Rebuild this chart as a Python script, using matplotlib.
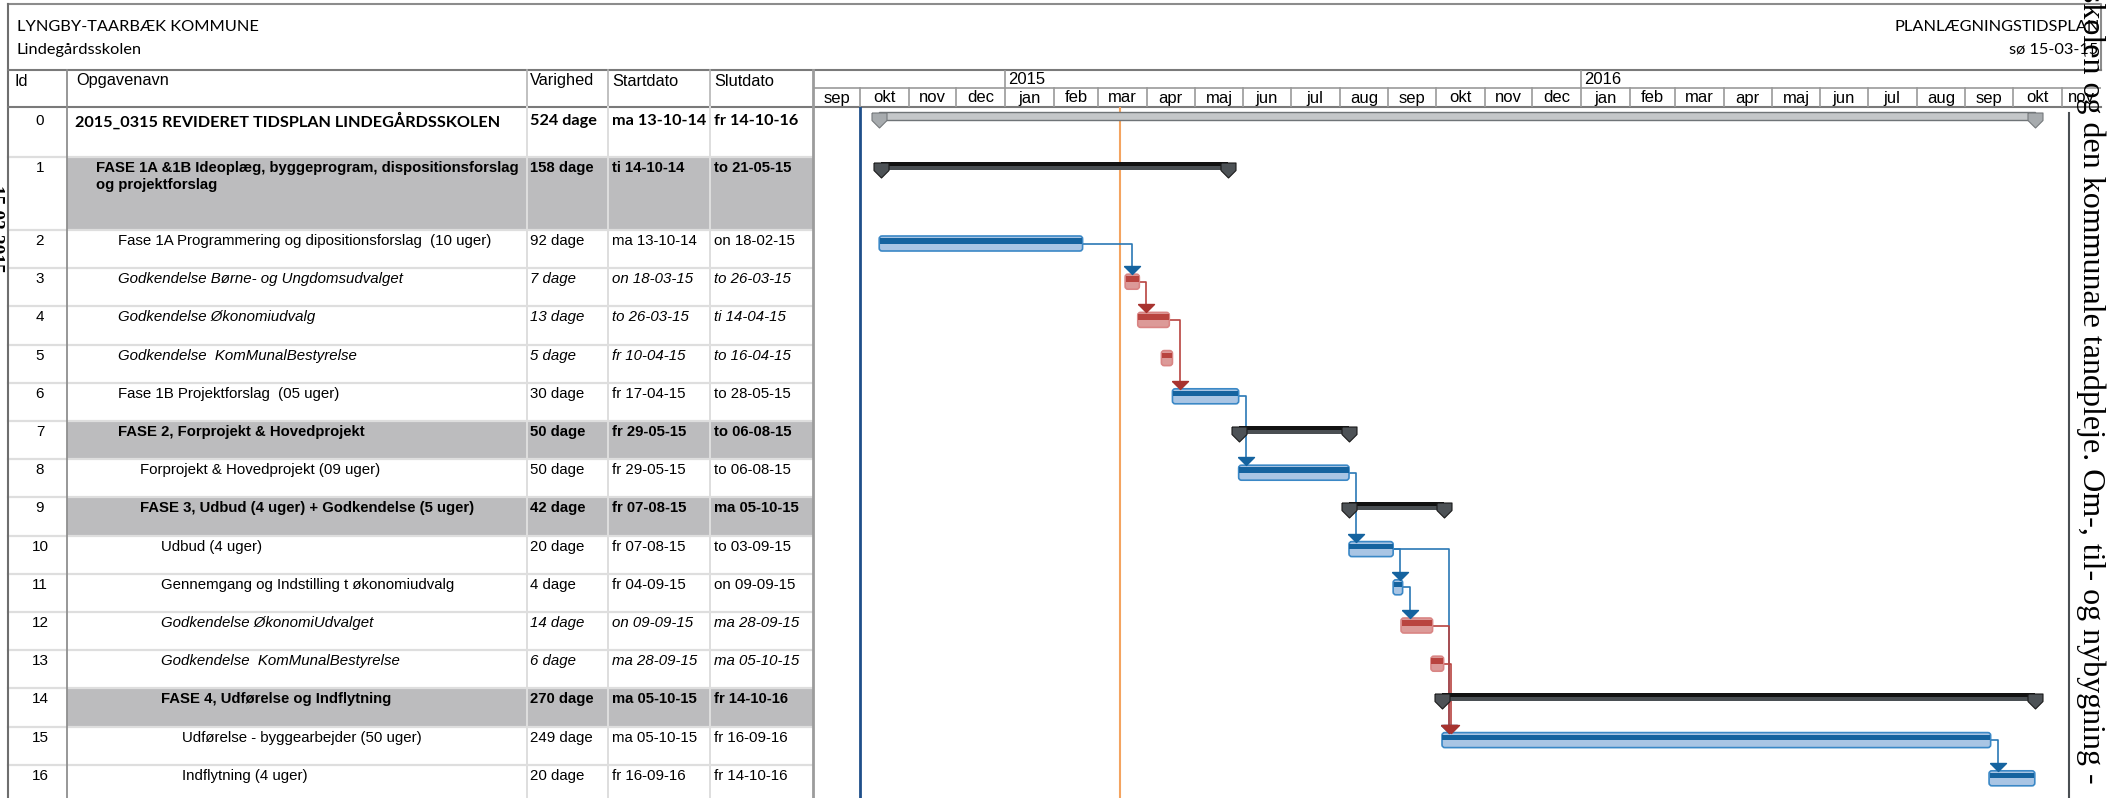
import matplotlib
matplotlib.use("Agg")
import matplotlib.pyplot as plt
import matplotlib.dates as mdates
from matplotlib.patches import Rectangle, FancyBboxPatch
from datetime import datetime

W, H = 2114, 798

# ---------------- data ----------------
ids = [str(i) for i in range(17)]
names = [
    "2015_0315 REVIDERET TIDSPLAN LINDEGÅRDSSKOLEN",
    "FASE 1A &1B Ideoplæg, byggeprogram, dispositionsforslag\nog projektforslag",
    "Fase 1A Programmering og dipositionsforslag  (10 uger)",
    "Godkendelse Børne- og Ungdomsudvalget",
    "Godkendelse Økonomiudvalg",
    "Godkendelse  KomMunalBestyrelse",
    "Fase 1B Projektforslag  (05 uger)",
    "FASE 2, Forprojekt & Hovedprojekt",
    "Forprojekt & Hovedprojekt (09 uger)",
    "FASE 3, Udbud (4 uger) + Godkendelse (5 uger)",
    "Udbud (4 uger)",
    "Gennemgang og Indstilling t økonomiudvalg",
    "Godkendelse ØkonomiUdvalget",
    "Godkendelse  KomMunalBestyrelse",
    "FASE 4, Udførelse og Indflytning",
    "Udførelse - byggearbejder (50 uger)",
    "Indflytning (4 uger)",
]
durations = ["524 dage", "158 dage", "92 dage", "7 dage", "13 dage", "5 dage", "30 dage",
             "50 dage", "50 dage", "42 dage", "20 dage", "4 dage", "14 dage", "6 dage",
             "270 dage", "249 dage", "20 dage"]
start_labels = ["ma 13-10-14", "ti 14-10-14", "ma 13-10-14", "on 18-03-15", "to 26-03-15",
                "fr 10-04-15", "fr 17-04-15", "fr 29-05-15", "fr 29-05-15", "fr 07-08-15",
                "fr 07-08-15", "fr 04-09-15", "on 09-09-15", "ma 28-09-15", "ma 05-10-15",
                "ma 05-10-15", "fr 16-09-16"]
end_labels = ["fr 14-10-16", "to 21-05-15", "on 18-02-15", "to 26-03-15", "ti 14-04-15",
              "to 16-04-15", "to 28-05-15", "to 06-08-15", "to 06-08-15", "ma 05-10-15",
              "to 03-09-15", "on 09-09-15", "ma 28-09-15", "ma 05-10-15", "fr 14-10-16",
              "fr 16-09-16", "fr 14-10-16"]
kinds = ["project", "summary", "task", "crit", "crit", "crit", "task", "summary", "task",
         "summary", "task", "task", "crit", "crit", "summary", "task", "task"]
levels = [0, 1, 2, 2, 2, 2, 2, 2, 3, 3, 4, 4, 4, 4, 4, 5, 5]
links = [(2, 3), (3, 4), (4, 6), (6, 8), (8, 10), (10, 11), (11, 12), (10, 15),
         (12, 15), (13, 15), (15, 16)]
months = ["sep", "okt", "nov", "dec", "jan", "feb", "mar", "apr", "maj", "jun", "jul",
          "aug", "sep", "okt", "nov", "dec", "jan", "feb", "mar", "apr", "maj", "jun",
          "jul", "aug", "sep", "okt", "nov"]
years = ["2015", "2016"]
status_date = "15-03-15"
view_start = "01-10-14"
view_end = "06-11-16"

# ---------------- layout ----------------
row_h = [50, 73] + [38.2] * 15
header_bottom = 107
tops = [header_bottom]
for h in row_h[:-1]:
    tops.append(tops[-1] + h)

col_x = [8, 67, 527, 608, 710, 813]
gantt_right = 2101

sans = "Liberation Sans"
cal = "Lato"

fig = plt.figure(figsize=(W / 100, H / 100), dpi=100)
ax = fig.add_axes([0, 0, 1, 1])
ax.set_xlim(0, W)
ax.set_ylim(H, 0)
ax.axis("off")

# page header
ax.plot([8, gantt_right, gantt_right], [4, 4, 70], color="#8c8c8c", lw=1.5)
ax.plot([8, 8], [4, H], color="#6e6e6e", lw=1.5)
ax.text(17, 27, "LYNGBY-TAARBÆK KOMMUNE", family=cal, fontsize=11.8, va="center")
ax.text(17, 50, "Lindegårdsskolen", family=cal, fontsize=11.8, va="center")
ax.text(2100, 27, "PLANLÆGNINGSTIDSPLAN", family=cal, fontsize=11.8, va="center", ha="right")
ax.text(2098, 50, "sø " + status_date, family=cal, fontsize=11.8, va="center", ha="right")
ax.plot([8, gantt_right], [70, 70], color="#7a7a7a", lw=1.5)
ax.plot([8, gantt_right], [header_bottom, header_bottom], color="#7a7a7a", lw=1.5)

# table header
for x, t in zip([14, 76, 530, 612, 714], ["Id", "Opgavenavn", "Varighed", "Startdato", "Slutdato"]):
    ax.text(x, 81, t, family=sans, fontsize=11.8, va="center")

# summary row shading
for i, k in enumerate(kinds):
    if k == "summary":
        ax.add_patch(Rectangle((col_x[1], tops[i]), col_x[-1] - col_x[1], row_h[i],
                               fc="#bcbcbe", ec="none", zorder=0))

# row lines
for i in range(17):
    y = tops[i] + row_h[i]
    ax.plot([col_x[0], col_x[-1]], [y, y], color="#dedede", lw=1.6, zorder=1)

# column lines
ax.plot([col_x[1], col_x[1]], [70, H], color="#8f8f8f", lw=1.3)
for x in col_x[2:5]:
    ax.plot([x, x], [70, header_bottom], color="#b5b5b5", lw=1.2)
    ax.plot([x, x], [header_bottom, H], color="#dedede", lw=1.4)
ax.plot([col_x[-1], col_x[-1]], [70, H], color="#9c9c9c", lw=2)

# row texts
for i in range(17):
    y = tops[i] + 11
    style = "normal"
    weight = "normal"
    fam = sans
    fs = 10.8
    if kinds[i] == "crit":
        style = "italic"
    if kinds[i] == "summary":
        weight = "bold"
        fs = 10.7
    if kinds[i] == "project":
        weight = "bold"
        fam = cal
        fs = 11.7
        y = tops[i] + 14
    ax.text(40, y, ids[i], family=sans, fontsize=11, va="center", ha="center")
    for k, line in enumerate(names[i].split("\n")):
        ax.text(75 + levels[i] * 21.5, y + k * 17.5, line, family=fam, fontsize=fs,
                va="center", style=style, weight=weight)
    ax.text(530, y, durations[i], family=fam, fontsize=fs, va="center", style=style, weight=weight)
    ax.text(612, y, start_labels[i], family=fam, fontsize=fs, va="center", style=style, weight=weight)
    ax.text(714, y, end_labels[i], family=fam, fontsize=fs, va="center", style=style, weight=weight)

# rotated page texts
fig.text(0.989, 1.012, "skolen og den kommunale tandpleje. Om-, til- og nybygning -",
         family="Liberation Serif", fontsize=23, rotation=-90, ha="center", va="top")
fig.text(-0.002, 0.768, "15 03 2015", family="Liberation Serif", fontsize=14, weight="bold",
         rotation=-90, ha="center", va="top")

# ---------------- gantt ----------------
def d2n(label):
    return mdates.date2num(datetime.strptime(label.split()[-1], "%d-%m-%y"))

starts = [d2n(s) for s in start_labels]
ends = [d2n(s) + 1 for s in end_labels]

x0 = mdates.date2num(datetime(2014, 9, 1))
x1 = mdates.date2num(datetime(2014, 10, 1)) + 787
px_per_day = (gantt_right - col_x[-1]) / (x1 - x0)

gx = fig.add_axes([col_x[-1] / W, 0, (gantt_right - col_x[-1]) / W, (H - header_bottom) / H])
gx.set_xlim(x0, x1)
gx.set_ylim(H, header_bottom)
gx.axis("off")

tx = fig.add_axes([col_x[-1] / W, (H - header_bottom) / H, (gantt_right - col_x[-1]) / W,
                   (header_bottom - 70) / H], sharex=gx)
tx.set_ylim(header_bottom, 70)
tx.axis("off")

# timescale
month_starts = [mdates.date2num(datetime(2014 + (8 + m) // 12, (8 + m) % 12 + 1, 1))
                for m in range(len(months) + 1)]
tx.plot([x0, x1], [88, 88], color="#9a9a9a", lw=1.2)
for i, m in enumerate(months):
    a, b = month_starts[i], min(month_starts[i + 1], x1)
    if i > 0:
        tx.plot([a, a], [88, header_bottom], color="#9a9a9a", lw=1.2)
    tx.text((a + b) / 2, 98, m, family=sans, fontsize=12, ha="center", va="center")
for y in years:
    xd = mdates.date2num(datetime(int(y), 1, 1))
    tx.plot([xd, xd], [70, 88], color="#9a9a9a", lw=1.2)
    tx.text(xd + 2, 80, y, family=sans, fontsize=12, ha="left", va="center")

# vertical lines
gx.axvline(d2n(view_start), color="#1f4f8a", lw=2)
gx.axvline(d2n(status_date), color="#f4a460", lw=1.5)
gx.axvline(d2n(view_end), ymax=(H - tops[0] - 6) / (H - header_bottom),
           color="#4a4f53", lw=1.5)

cap = [(-1, 1), (1, 1), (1, 0), (0, -1), (-1, 0), (-1, 1)]
arrow = [(-1, 0.5), (1, 0.5), (0, -0.5), (-1, 0.5)]

blue_fill, blue_band, blue_edge = "#a9c5e4", "#15639f", "#3b88c6"
red_fill, red_band, red_edge = "#dc9a98", "#b9443f", "#d98584"

def bar_top(i):
    if kinds[i] in ("project", "summary"):
        return tops[i] + 5
    return tops[i] + 6

for i in range(17):
    s, e = starts[i], ends[i]
    t = bar_top(i)
    if kinds[i] == "project":
        gx.add_patch(Rectangle((s, t), e - s, 8, fc="#c4c7c9", ec="#6f7477", lw=1, zorder=3))
        gx.plot([s, e], [t + 7.5, t + 7.5], ls="none", marker=cap, ms=10.8,
                mfc="#a7abae", mec="#75797c", mew=0.8, zorder=4)
    elif kinds[i] == "summary":
        gx.add_patch(Rectangle((s, t), e - s, 4, fc="#121212", ec="none", zorder=3))
        gx.add_patch(Rectangle((s, t + 4), e - s, 4, fc="#4a4f53", ec="none", zorder=3))
        gx.plot([s, e], [t + 7.5, t + 7.5], ls="none", marker=cap, ms=10.8,
                mfc="#4d5256", mec="#1a1a1a", mew=0.8, zorder=4)
    else:
        fill, band, edge = (red_fill, red_band, red_edge) if kinds[i] == "crit" else \
            (blue_fill, blue_band, blue_edge)
        gx.add_patch(FancyBboxPatch((s, t), e - s, 15, boxstyle="round,pad=0,rounding_size=1.8",
                                    mutation_aspect=px_per_day, fc=fill, ec=edge, lw=1.2,
                                    zorder=3))
        gx.add_patch(Rectangle((s + 0.3, t + 2), e - s - 0.6, 5.5, fc=band, ec="none", zorder=4))

for p, s in links:
    col = "#b8433f" if kinds[p] == "crit" else "#2a78b5"
    acol = "#a8332f" if kinds[p] == "crit" else "#15639f"
    ym = bar_top(p) + 7.5
    xv = max(ends[p], starts[s]) + 4.5
    ys = bar_top(s)
    gx.plot([ends[p], xv, xv], [ym, ym, ys - 6], color=col, lw=1.2, zorder=2)
    gx.plot([xv], [ys - 4], ls="none", marker=arrow, ms=11.5, mfc=acol, mec=acol, zorder=5)

fig.savefig("out.png", dpi=100)
